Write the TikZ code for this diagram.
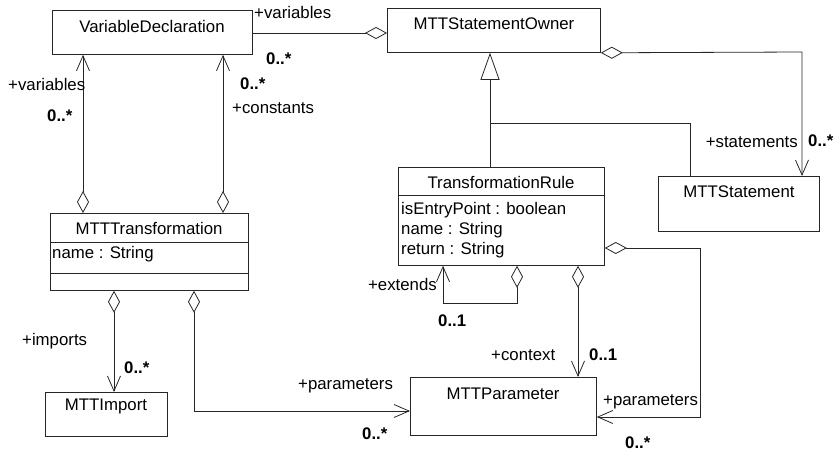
\documentclass[tikz,border=0pt]{standalone}
\usepackage{fontspec}
\setmainfont{Liberation Sans}
\usetikzlibrary{arrows.meta}
\begin{document}
\begin{tikzpicture}[x=1pt,y=-1pt,
  box/.style={draw=black!85, line width=0.8pt, inner sep=0pt, anchor=north west},
  txt/.style={font=\fontsize{16.8}{20}\selectfont, inner sep=0pt, anchor=base},
  attr/.style={font=\fontsize{16.8}{20}\selectfont, inner sep=0pt, anchor=base west},
  role/.style={font=\fontsize{16.8}{20}\selectfont, inner sep=0pt, anchor=base west},
  mult/.style={font=\fontsize{16.8}{20}\selectfont\bfseries, inner sep=0pt, anchor=base west},
  conn/.style={draw=black!85, line width=0.8pt},
  agg/.style={conn, arrows={Diamond[open,length=22pt,width=12pt]-}},
  aggnav/.style={conn, arrows={Diamond[open,length=22pt,width=12pt]-Straight Barb[length=15pt,width=13pt]}},
  gen/.style={conn, arrows={-Triangle[open,length=27pt,width=19pt]}}
]
\useasboundingbox (0,0) rectangle (840,452);

% boxes
\node[box, minimum width=200pt, minimum height=44pt] (vd) at (52,10) {};
\node[txt] (vdt) at (152,33) {VariableDeclaration};

\node[box, minimum width=213pt, minimum height=44pt] (so) at (387,8) {};
\node[txt] (sot) at (494,30) {MTTStatementOwner};

\node[box, minimum width=161pt, minimum height=55pt] (st) at (658,176) {};
\node[txt] (stt) at (739,197) {MTTStatement};

\node[box, minimum width=206pt, minimum height=98pt] (tr) at (398,167) {};
\node[txt] (trt) at (501,188) {TransformationRule};
\draw[conn] (tr.west |- 0,195) -- (tr.east |- 0,195);
\node[attr] (tra1) at (401,214) {isEntryPoint : boolean};
\node[attr] (tra2) at (401,234) {name : String};
\node[attr] (tra3) at (401,254) {return : String};

\node[box, minimum width=198pt, minimum height=77pt] (mt) at (50,213) {};
\node[txt] (mtt) at (149,234) {MTTTransformation};
\draw[conn] (mt.west |- 0,242) -- (mt.east |- 0,242);
\draw[conn] (mt.west |- 0,273) -- (mt.east |- 0,273);
\node[attr] (mta1) at (52,258) {name : String};

\node[box, minimum width=122pt, minimum height=44pt] (im) at (45,392) {};
\node[txt] (imt) at (106,410) {MTTImport};

\node[box, minimum width=186pt, minimum height=58pt] (pa) at (410,377) {};
\node[txt] (pat) at (503,399) {MTTParameter};

% connectors
\draw[agg] (so.west |- 0,33) -- (vd.east |- 0,33);
\draw[aggnav] (mt.north -| 83,0) -- (vd.south -| 83,0);
\draw[aggnav] (mt.north -| 223,0) -- (vd.south -| 223,0);
\draw[gen] (tr.north -| 490,0) -- (so.south -| 490,0);
\draw[conn] (st.north -| 690,0) -- (690,123) -- (490,123);
\draw[aggnav] (so.south east) -- (802,52) -- (st.north -| 802,0);
\draw[aggnav] (mt.south -| 114,0) -- (im.north -| 114,0);
\draw[aggnav] (mt.south -| 194,0) -- (194,411) -- (pa.west |- 0,411);
\draw[aggnav] (tr.south -| 517,0) -- (517,303) -- (443,303) -- (tr.south -| 443,0);
\draw[aggnav] (tr.south -| 578,0) -- (pa.north -| 578,0);
\draw[aggnav] (tr.east |- 0,248) -- (700,248) -- (700,417) -- (pa.east |- 0,417);

% labels
\node[role] (l1) at (254,19) {+variables};
\node[mult] (m1) at (266,64) {0..*};
\node[role] (l2) at (8,90) {+variables};
\node[mult] (m2) at (47,121) {0..*};
\node[mult] (m3) at (240,89) {0..*};
\node[role] (l3) at (232,113) {+constants};
\node[role, anchor=base east] (l4) at (798,147) {+statements};
\node[mult] (m4) at (808,146) {0..*};
\node[role, anchor=base east] (l5) at (437,290) {+extends};
\node[mult] (m5) at (438,326) {0..1};
\node[role] (l6) at (491,360) {+context};
\node[mult] (m6) at (589,360) {0..1};
\node[role] (l7) at (603,405) {+parameters};
\node[mult] (m7) at (625,448) {0..*};
\node[role] (l8) at (22,345) {+imports};
\node[mult] (m8) at (124,373) {0..*};
\node[role] (l9) at (298,389) {+parameters};
\node[mult] (m9) at (362,439) {0..*};
\end{tikzpicture}
\end{document}
